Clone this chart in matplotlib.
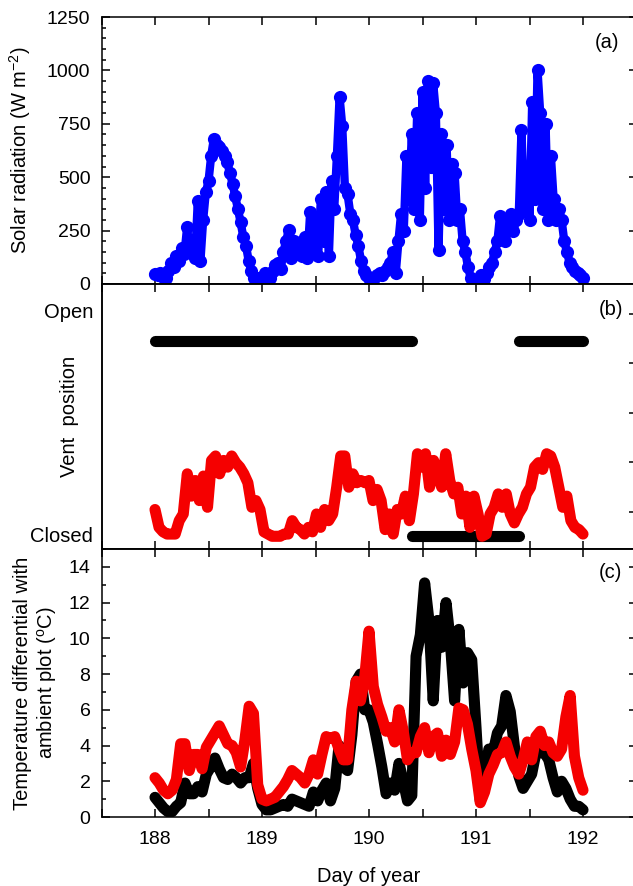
import numpy as np
import matplotlib
matplotlib.use("Agg")
import matplotlib.pyplot as plt
from matplotlib.ticker import MultipleLocator

plt.rcParams['font.family'] = ['Liberation Sans', 'DejaVu Sans']
plt.rcParams['mathtext.default'] = 'regular'

TAM_ROTULO = 14.5
TAM_TICK = 14

# ===================== DADOS =====================
# (a) radiação solar, passo de 0.025 dia
solar = [45, 40, 50, 35, 30, 60, 100, 80, 130, 110, 170, 140,
         265, 150, 180, 120, 390, 110, 300, 430, 480, 600, 680, 650,
         640, 625, 600, 570, 520, 470, 410, 350, 290, 220, 180, 110,
         60, 30, 25, 30, 35, 50, 40, 30, 60, 90, 100, 70,
         150, 200, 253, 120, 200, 140, 180, 130, 220, 120, 335, 150,
         300, 130, 400, 200, 430, 130, 480, 350, 600, 875, 740, 450,
         420, 330, 300, 230, 180, 110, 60, 40, 30, 25, 30, 40,
         50, 40, 60, 80, 100, 150, 50, 200, 330, 250, 600, 400,
         700, 350, 800, 300, 900, 450, 950, 550, 940, 800, 160, 700,
         350, 650, 300, 560, 520, 300, 350, 200, 150, 80, 30, 20,
         15, 20, 40, 25, 50, 80, 100, 150, 200, 320, 250, 200,
         280, 330, 250, 300, 330, 720, 350, 550, 300, 850, 400, 1000,
         800, 350, 750, 300, 600, 400, 300, 350, 300, 200, 150, 100,
         80, 60, 50, 40, 30]
dia_solar = np.linspace(188, 192, len(solar))

# (b) posição da ventilação (Closed = 0, Open = 1)
vent_aberta = [(188.0, 190.40), (191.40, 192.0)]
vent_fechada = [(190.40, 191.40)]
nivel_aberta = 0.865
nivel_fechada = -0.01
vent_vermelho = [0.11, 0.03, 0.01, 0.00, 0.00, 0.00, 0.06, 0.09, 0.27, 0.17,
                 0.24, 0.15, 0.26, 0.12, 0.33, 0.35, 0.27, 0.33, 0.30, 0.35,
                 0.32, 0.30, 0.27, 0.23, 0.12, 0.15, 0.11, 0.01, 0.00, -0.01,
                 -0.01, -0.01, 0.00, 0.00, 0.06, 0.03, 0.02, 0.00, 0.03, 0.01,
                 0.09, 0.03, 0.11, 0.06, 0.09, 0.21, 0.35, 0.35, 0.21, 0.27,
                 0.23, 0.24, 0.23, 0.24, 0.15, 0.20, 0.15, 0.02, 0.09, 0.00,
                 0.11, 0.09, 0.17, 0.06, 0.18, 0.36, 0.30, 0.36, 0.21, 0.33,
                 0.27, 0.21, 0.36, 0.24, 0.18, 0.21, 0.09, 0.17, 0.03, 0.17,
                 0.09, -0.01, 0.00, 0.09, 0.12, 0.18, 0.12, 0.18, 0.09, 0.05,
                 0.09, 0.12, 0.18, 0.21, 0.30, 0.32, 0.29, 0.36, 0.35, 0.30,
                 0.21, 0.12, 0.17, 0.06, 0.03, 0.02, 0.00]
dia_vent = np.linspace(188, 192, len(vent_vermelho))

# (c) diferencial de temperatura, passo de 0.04 dia
temp_preto = [1.1, 0.8, 0.5, 0.3, 0.3, 0.6, 0.8, 1.9, 1.3, 1.3,
              1.7, 1.4, 2.4, 2.8, 3.3, 2.7, 2.2, 2.1, 2.4, 2.2,
              1.9, 2.2, 2.2, 3.0, 1.6, 0.7, 0.4, 0.4, 0.5, 0.6,
              0.7, 0.6, 1.0, 0.9, 0.8, 0.7, 0.6, 1.4, 0.9, 1.5,
              1.9, 0.9, 1.6, 4.0, 2.8, 2.6, 4.6, 7.6, 8.0, 6.0,
              6.0, 5.3, 4.1, 2.8, 1.3, 1.9, 1.5, 3.0, 2.0, 0.9,
              1.2, 9.0, 10.2, 13.1, 11.0, 6.5, 11.0, 9.5, 12.0, 9.8,
              6.5, 10.5, 7.5, 9.2, 8.8, 5.0, 0.9, 2.2, 3.8, 3.6,
              4.7, 5.1, 6.8, 5.9, 3.9, 2.3, 1.6, 2.0, 2.4, 3.6,
              3.6, 3.6, 3.2, 2.2, 1.4, 2.0, 1.6, 1.0, 0.6, 0.6, 0.4]
temp_vermelho = [2.2, 1.9, 1.5, 1.3, 1.5, 2.1, 4.1, 4.1, 2.6, 3.5,
                 3.5, 2.7, 3.9, 4.3, 4.7, 5.1, 4.6, 4.1, 4.0, 3.6,
                 2.8, 4.3, 6.2, 5.8, 1.8, 1.0, 0.9, 1.0, 1.1, 1.4,
                 1.7, 2.1, 2.6, 2.4, 2.2, 1.9, 2.4, 3.2, 2.4, 3.5,
                 4.5, 4.4, 4.5, 3.8, 3.2, 3.2, 6.0, 7.6, 6.5, 7.8,
                 10.4, 7.3, 6.3, 5.6, 4.8, 5.0, 4.2, 6.0, 4.8, 3.2,
                 3.6, 3.6, 4.5, 5.0, 3.6, 4.5, 4.7, 3.4, 4.3, 3.5,
                 4.2, 6.1, 6.0, 5.2, 3.8, 2.6, 0.8, 1.4, 2.4, 2.9,
                 3.5, 3.6, 4.2, 3.4, 2.8, 2.4, 3.2, 4.2, 3.2, 4.5,
                 4.8, 4.0, 4.2, 3.6, 3.4, 3.8, 5.6, 6.8, 3.4, 2.2, 1.5]
dia_temp = np.linspace(188, 192, len(temp_preto))

azul = "#0000ff"
vermelho = "#f50000"
preto = "#000000"

# ===================== FIGURA =====================
fig = plt.figure(figsize=(6.33, 8.86), dpi=100)
esq = 101.5 / 633
larg = 535 / 633
ax1 = fig.add_axes([esq, (886 - 284) / 886, larg, 267 / 886])
ax2 = fig.add_axes([esq, (886 - 549) / 886, larg, 265 / 886])
ax3 = fig.add_axes([esq, (886 - 817) / 886, larg, 268 / 886])

for ax in (ax1, ax2, ax3):
    ax.set_xlim(187.5, 192.5)
    ax.xaxis.set_major_locator(MultipleLocator(1))
    ax.xaxis.set_minor_locator(MultipleLocator(0.5))
    ax.tick_params(which='both', direction='in', top=True, bottom=True,
                   width=1.1, labelsize=TAM_TICK)
    ax.tick_params(axis='x', which='both', length=6)
    ax.tick_params(axis='y', pad=8)
    for s in ax.spines.values():
        s.set_linewidth(1.1)

# ===================== (a) =====================
ax1.plot(dia_solar, solar, color=azul, linewidth=6, marker='o',
         markersize=9.5, markeredgewidth=0, solid_joinstyle='round')
ax1.set_ylim(0, 1250)
ax1.yaxis.set_major_locator(MultipleLocator(250))
ax1.yaxis.set_minor_locator(MultipleLocator(50))
ax1.tick_params(axis='y', which='both', left=True, right=True)
ax1.tick_params(axis='y', which='major', length=6)
ax1.tick_params(axis='y', which='minor', length=3)
ax1.tick_params(axis='x', labelbottom=False)
ax1.set_ylabel("Solar radiation (W m$^{-2}$)", fontsize=TAM_ROTULO)
ax1.yaxis.set_label_coords(-0.128, 0.5)
ax1.text(0.945, 0.906, "(a)", transform=ax1.transAxes, fontsize=TAM_ROTULO,
         ha='center', va='center')

# ===================== (b) =====================
for ini, fim in vent_aberta:
    ax2.plot([ini, fim], [nivel_aberta, nivel_aberta], color=preto,
             linewidth=8, solid_capstyle='round')
for ini, fim in vent_fechada:
    ax2.plot([ini, fim], [nivel_fechada, nivel_fechada], color=preto,
             linewidth=8, solid_capstyle='round')
ax2.plot(dia_vent, vent_vermelho, color=vermelho, linewidth=8,
         solid_joinstyle='round', solid_capstyle='round')
ax2.set_ylim(-0.067, 1.121)
ax2.set_yticks([0, 1])
ax2.set_yticklabels(["Closed", "Open"], fontsize=TAM_ROTULO)
ax2.tick_params(axis='y', which='both', length=0, pad=6)
ax2.tick_params(axis='x', labelbottom=False)
ax2.set_ylabel("Vent  position", fontsize=TAM_ROTULO)
ax2.yaxis.set_label_coords(-0.042, 0.5)
ax2.text(0.952, 0.902, "(b)", transform=ax2.transAxes, fontsize=TAM_ROTULO,
         ha='center', va='center')

ax2d = ax2.twinx()
ax2d.set_ylim(0.2525, 5.606)
ax2d.yaxis.set_major_locator(MultipleLocator(1))
ax2d.yaxis.set_minor_locator(MultipleLocator(0.2))
ax2d.tick_params(axis='y', which='both', direction='in', labelright=False, width=1.1)
ax2d.tick_params(axis='y', which='major', length=6)
ax2d.tick_params(axis='y', which='minor', length=3)
for s in ax2d.spines.values():
    s.set_linewidth(1.1)

# ===================== (c) =====================
ax3.plot(dia_temp, temp_preto, color=preto, linewidth=8,
         solid_joinstyle='round', solid_capstyle='round')
ax3.plot(dia_temp, temp_vermelho, color=vermelho, linewidth=8,
         solid_joinstyle='round', solid_capstyle='round')
ax3.set_ylim(0, 15)
ax3.yaxis.set_major_locator(MultipleLocator(2))
ax3.yaxis.set_minor_locator(MultipleLocator(1))
ax3.tick_params(axis='y', which='both', left=True, right=True)
ax3.tick_params(axis='y', which='major', length=6)
ax3.tick_params(axis='y', which='minor', length=3)
ax3.tick_params(axis='x', pad=10)
ax3.set_ylabel("Temperature differential with\nambient plot ($^{o}$C)",
               fontsize=TAM_ROTULO, linespacing=1.15)
ax3.yaxis.set_label_coords(-0.08, 0.5)
ax3.set_xlabel("Day of year", fontsize=TAM_ROTULO, labelpad=14)
ax3.text(0.951, 0.914, "(c)", transform=ax3.transAxes, fontsize=TAM_ROTULO,
         ha='center', va='center')

fig.savefig("out.png", dpi=100)
